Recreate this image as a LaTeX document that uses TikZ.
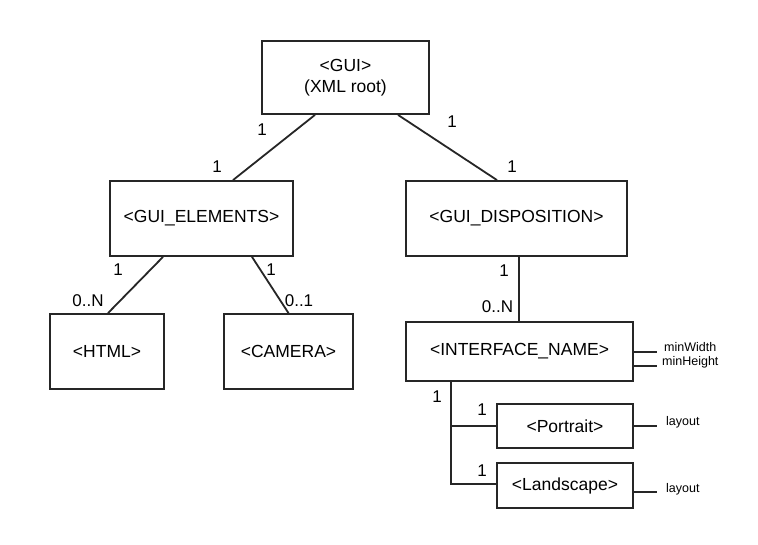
\documentclass[tikz,border=0pt]{standalone}
\usepackage{fontspec}
\setmainfont{Liberation Sans}
\begin{document}
\begin{tikzpicture}[x=1pt,y=-1pt,
  box/.style={draw=black!85,line width=1.8pt,rectangle,inner sep=0pt,
    font=\fontsize{17.5}{21}\selectfont,align=center},
  conn/.style={draw=black!85,line width=1.8pt},
  stub/.style={draw=black!85,line width=1.4pt},
  card/.style={inner sep=0pt,font=\fontsize{17}{20}\selectfont},
  attr/.style={inner sep=0pt,anchor=west,font=\fontsize{12.5}{14}\selectfont}]
\useasboundingbox (0,0) rectangle (758,545);
\fill[white] (0,0) rectangle (758,545);
% boxes
\node[box,minimum width=167pt,minimum height=73pt] (gui) at (345.5,77.5) {<GUI>\\(XML root)};
\node[box,minimum width=183pt,minimum height=75pt] (elem) at (201.5,218.5) {<GUI\_ELEMENTS>};
\node[box,minimum width=221pt,minimum height=75pt] (disp) at (516.5,218.5) {<GUI\_DISPOSITION>};
\node[box,minimum width=114pt,minimum height=75pt] (html) at (107,351.5) {<HTML>};
\node[box,minimum width=129pt,minimum height=75pt] (cam) at (288.5,351.5) {<CAMERA>};
\node[box,minimum width=227pt,minimum height=59pt] (iface) at (519.5,351.5) {<INTERFACE\_NAME>};
\node[box,minimum width=136pt,minimum height=44pt] (port) at (565,426) {<Portrait>};
\node[box,minimum width=136pt,minimum height=45pt] (land) at (565,485.5) {<Landscape>};
% connectors
\draw[conn] ([xshift=-30.5pt]gui.south) -- ([xshift=31.5pt]elem.north);
\draw[conn] ([xshift=52.5pt]gui.south) -- ([xshift=-19.5pt]disp.north);
\draw[conn] ([xshift=-38.5pt]elem.south) -- ([xshift=1pt]html.north);
\draw[conn] ([xshift=50.5pt]elem.south) -- (cam.north);
\coordinate (ifn) at ([xshift=-0.6pt]iface.north);
\draw[conn] (ifn |- disp.south) -- (ifn);
\coordinate (tr) at ([xshift=-68.5pt]iface.south);
\draw[conn] (tr) |- ([yshift=1.5pt]land.west);
\draw[conn] (port.west) -- (tr |- port.west);
% attribute stubs
\coordinate (mw) at ([xshift=23pt,yshift=-0.6pt]iface.east);
\coordinate (mh) at ([xshift=23pt,yshift=-14.5pt]iface.east);
\coordinate (pl) at ([xshift=23pt]port.east);
\coordinate (ll) at ([xshift=23pt,yshift=-6.5pt]land.east);
\draw[stub] ([yshift=-0.6pt]iface.east) -- (mw);
\draw[stub] ([yshift=-14.5pt]iface.east) -- (mh);
\draw[stub] (port.east) -- (pl);
\draw[stub] ([yshift=-6.5pt]land.east) -- (ll);
\node[attr] (tmw) at (664,347.5) {minWidth};
\node[attr] (tmh) at (662,362.5) {minHeight};
\node[attr] (tpl) at (666,422) {layout};
\node[attr] (tll) at (666,489) {layout};
% cardinalities
\node[card] (c1) at (262,130) {1};
\node[card] (c2) at (217,167) {1};
\node[card] (c3) at (452,122) {1};
\node[card] (c4) at (512,167) {1};
\node[card] (c5) at (118,270) {1};
\node[card] (c6) at (88,301) {0..N};
\node[card] (c7) at (271,270) {1};
\node[card] (c8) at (299,301) {0..1};
\node[card] (c9) at (504,271) {1};
\node[card] (c10) at (497.5,307) {0..N};
\node[card] (c11) at (437,397) {1};
\node[card] (c12) at (482,410) {1};
\node[card] (c13) at (482,471) {1};
\end{tikzpicture}
\end{document}
